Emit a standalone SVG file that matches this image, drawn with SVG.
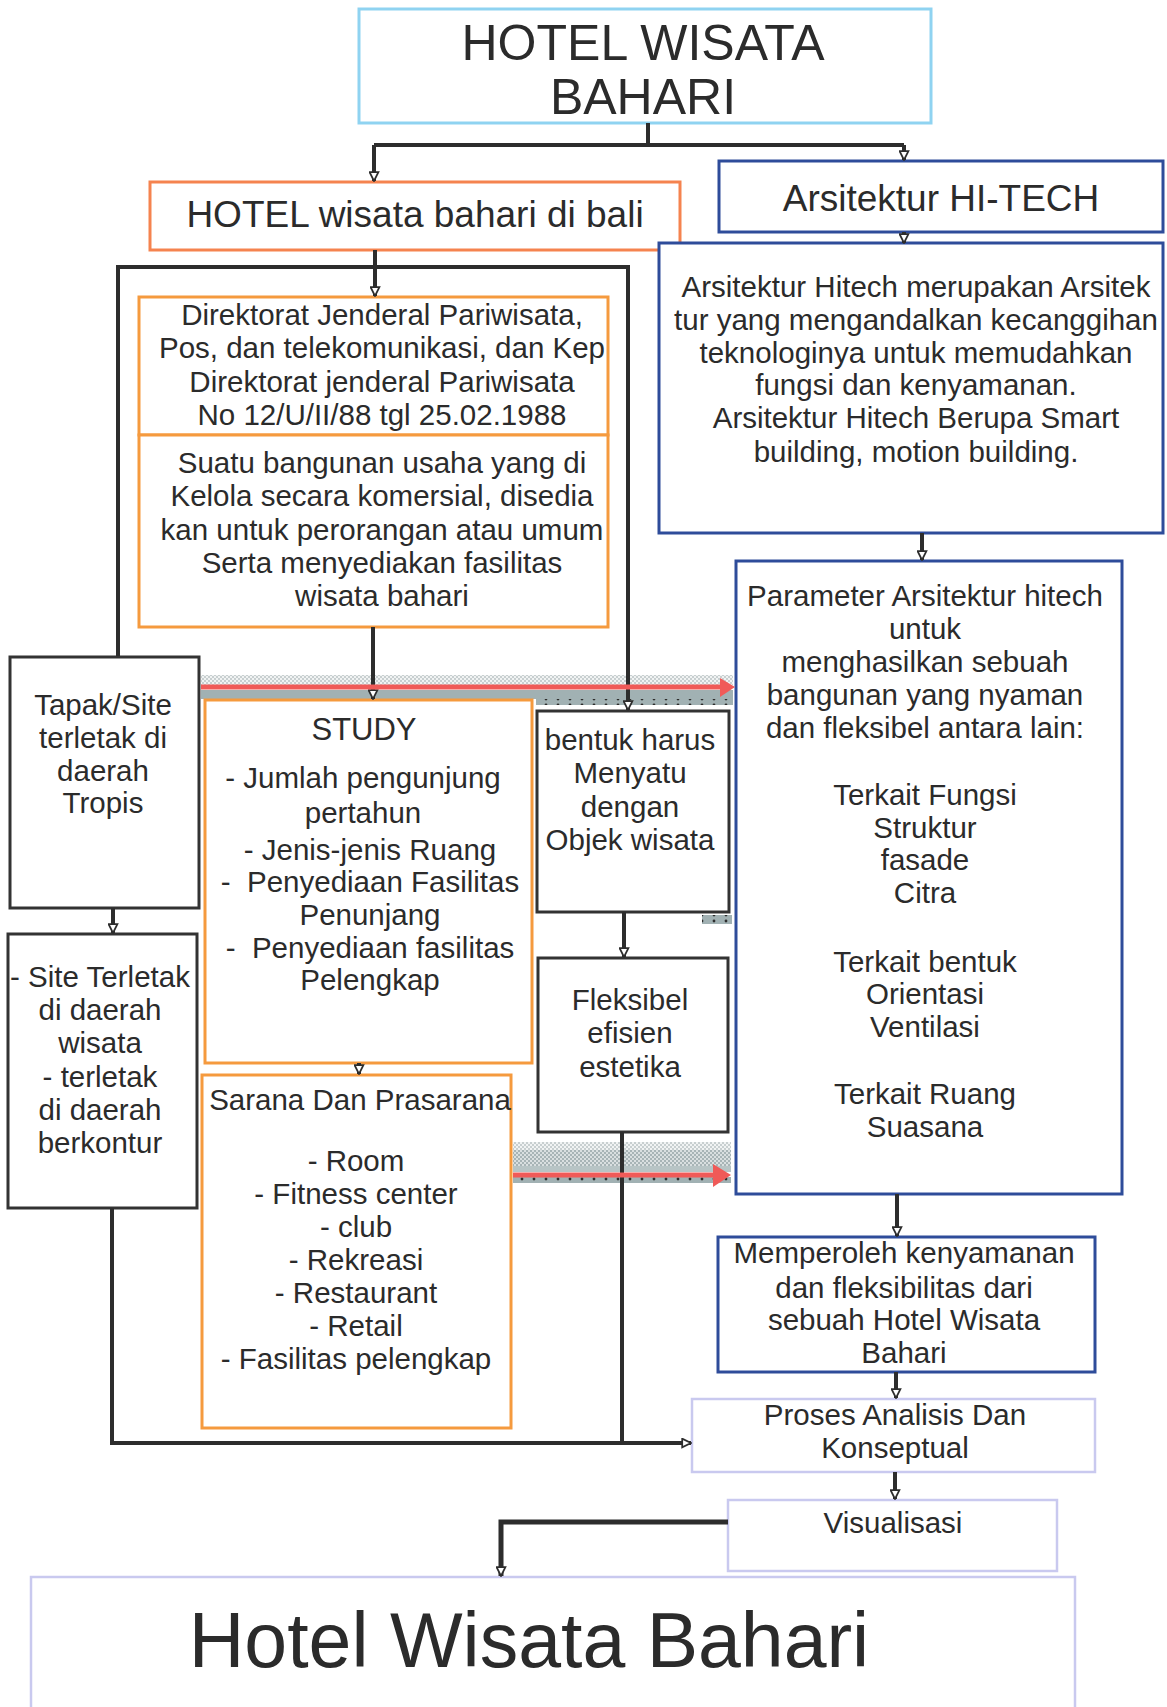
<svg xmlns="http://www.w3.org/2000/svg" width="1167" height="1707" viewBox="0 0 1167 1707">
<defs>
<style>
.t{font-family:"Liberation Sans",Arial,sans-serif;fill:#2b2b2b;text-anchor:middle;font-size:29.5px}
.box{fill:#fff;stroke-width:3}
.or{stroke:#f59a3e}
.rd{stroke:#f5834f}
.bl{stroke:#2e4c9a}
.lb{stroke:#8fd3f1}
.lv{stroke:#c9c9ef;stroke-width:2.5}
.bk{stroke:#333}
.ln{fill:none;stroke:#2d2d2d;stroke-width:4}
.red{fill:none;stroke:#f05a58;stroke-width:5}
</style>
<marker id="ah" viewBox="0 0 10 10" refX="9" refY="5" markerWidth="11" markerHeight="11" markerUnits="userSpaceOnUse" orient="auto">
<path d="M1,1 L9,5 L1,9 z" fill="#fff" stroke="#2d2d2d" stroke-width="1.6"/>
</marker>
<pattern id="lightdots" width="4" height="4" patternUnits="userSpaceOnUse">
<rect width="4" height="4" fill="#f1f3f3"/>
<rect x="0" y="0" width="2" height="2" fill="#c8cfd0"/>
<rect x="2" y="2" width="2" height="2" fill="#c8cfd0"/>
</pattern>
<pattern id="darkdots" width="4" height="4" patternUnits="userSpaceOnUse">
<rect width="4" height="4" fill="#d9dfe0"/>
<rect x="0" y="0" width="2" height="2" fill="#a7b4b6"/>
<rect x="2" y="2" width="2" height="2" fill="#a7b4b6"/>
</pattern>
<pattern id="blackdots" width="12" height="6" patternUnits="userSpaceOnUse">
<rect width="12" height="6" fill="#a1b1b3"/>
<circle cx="6" cy="3" r="1.4" fill="#2d2d2d"/>
</pattern>
</defs>

<g id="bands">
<rect x="201" y="675" width="532" height="10" fill="url(#lightdots)"/>
<rect x="201" y="690" width="532" height="9" fill="#a1b1b3"/>
<rect x="536" y="699" width="197" height="6" fill="url(#blackdots)"/>
<rect x="702" y="915" width="30" height="9" fill="url(#blackdots)"/>
<rect x="513" y="1142" width="218" height="8" fill="url(#lightdots)"/>
<rect x="513" y="1150" width="218" height="16" fill="url(#darkdots)"/>
<rect x="513" y="1166" width="218" height="6" fill="#b7c4c5"/>
<rect x="513" y="1177" width="218" height="6" fill="url(#blackdots)"/>
</g>

<g id="n-top"><rect class="box lb" x="359" y="9" width="572" height="114"/>
<text class="t" x="643" y="60" style="font-size:50px">HOTEL WISATA</text>
<text class="t" x="643" y="114" style="font-size:50px">BAHARI</text></g>

<g id="n-hotel"><rect class="box rd" x="150" y="182" width="530" height="68"/>
<text class="t" x="415" y="227" style="font-size:37px">HOTEL wisata bahari di bali</text></g>

<g id="n-hitech"><rect class="box bl" x="719" y="161" width="444" height="71"/>
<text class="t" x="941" y="211" style="font-size:37px">Arsitektur HI-TECH</text></g>

<g id="n-desc"><rect class="box bl" x="659" y="243" width="504" height="290"/>
<text class="t" x="916" y="297">Arsitektur Hitech merupakan Arsitek</text>
<text class="t" x="916" y="330">tur yang mengandalkan kecanggihan</text>
<text class="t" x="916" y="363">teknologinya untuk memudahkan</text>
<text class="t" x="916" y="395">fungsi dan kenyamanan.</text>
<text class="t" x="916" y="428">Arsitektur Hitech Berupa Smart</text>
<text class="t" x="916" y="462">building, motion building.</text></g>

<g id="n-direktorat"><rect class="box or" x="139" y="297" width="469" height="138"/>
<text class="t" x="382" y="325">Direktorat Jenderal Pariwisata,</text>
<text class="t" x="382" y="358">Pos, dan telekomunikasi, dan Kep</text>
<text class="t" x="382" y="392">Direktorat jenderal Pariwisata</text>
<text class="t" x="382" y="425">No 12/U/II/88 tgl 25.02.1988</text></g>

<g id="n-suatu"><rect class="box or" x="139" y="435" width="469" height="192"/>
<text class="t" x="382" y="473">Suatu bangunan usaha yang di</text>
<text class="t" x="382" y="506">Kelola secara komersial, disedia</text>
<text class="t" x="382" y="540">kan untuk perorangan atau umum</text>
<text class="t" x="382" y="573">Serta menyediakan fasilitas</text>
<text class="t" x="382" y="606">wisata bahari</text></g>

<g id="n-param"><rect class="box bl" x="736" y="561" width="386" height="633"/>
<text class="t" x="925" y="606">Parameter Arsitektur hitech</text>
<text class="t" x="925" y="639">untuk</text>
<text class="t" x="925" y="672">menghasilkan sebuah</text>
<text class="t" x="925" y="705">bangunan yang nyaman</text>
<text class="t" x="925" y="738">dan fleksibel antara lain:</text>
<text class="t" x="925" y="805">Terkait Fungsi</text>
<text class="t" x="925" y="838">Struktur</text>
<text class="t" x="925" y="870">fasade</text>
<text class="t" x="925" y="903">Citra</text>
<text class="t" x="925" y="972">Terkait bentuk</text>
<text class="t" x="925" y="1004">Orientasi</text>
<text class="t" x="925" y="1037">Ventilasi</text>
<text class="t" x="925" y="1104">Terkait Ruang</text>
<text class="t" x="925" y="1137">Suasana</text></g>

<g id="n-tapak"><rect class="box bk" x="10" y="657" width="189" height="251"/>
<text class="t" x="103" y="715">Tapak/Site</text>
<text class="t" x="103" y="748">terletak di</text>
<text class="t" x="103" y="781">daerah</text>
<text class="t" x="103" y="813">Tropis</text></g>

<g id="n-site"><rect class="box bk" x="8" y="934" width="189" height="274"/>
<text class="t" x="100" y="987">- Site Terletak</text>
<text class="t" x="100" y="1020">di daerah</text>
<text class="t" x="100" y="1053">wisata</text>
<text class="t" x="100" y="1087">- terletak</text>
<text class="t" x="100" y="1120">di daerah</text>
<text class="t" x="100" y="1153">berkontur</text></g>

<g id="n-study"><rect class="box or" x="205" y="700" width="327" height="363"/>
<text class="t" x="364" y="740" style="font-size:31px">STUDY</text>
<text class="t" x="363" y="788">- Jumlah pengunjung</text>
<text class="t" x="363" y="823">pertahun</text>
<text class="t" x="370" y="860">- Jenis-jenis Ruang</text>
<text class="t" x="370" y="892">-&#160; Penyediaan Fasilitas</text>
<text class="t" x="370" y="925">Penunjang</text>
<text class="t" x="370" y="958">-&#160; Penyediaan fasilitas</text>
<text class="t" x="370" y="990">Pelengkap</text></g>

<g id="n-sarana"><rect class="box or" x="202" y="1075" width="309" height="353"/>
<text class="t" x="360" y="1110">Sarana Dan Prasarana</text>
<text class="t" x="356" y="1171">- Room</text>
<text class="t" x="356" y="1204">- Fitness center</text>
<text class="t" x="356" y="1237">- club</text>
<text class="t" x="356" y="1270">- Rekreasi</text>
<text class="t" x="356" y="1303">- Restaurant</text>
<text class="t" x="356" y="1336">- Retail</text>
<text class="t" x="356" y="1369">- Fasilitas pelengkap</text></g>

<g id="n-bentuk"><rect class="box bk" x="537" y="711" width="192" height="201"/>
<text class="t" x="630" y="750">bentuk harus</text>
<text class="t" x="630" y="783">Menyatu</text>
<text class="t" x="630" y="817">dengan</text>
<text class="t" x="630" y="850">Objek wisata</text></g>

<g id="n-fleksibel"><rect class="box bk" x="538" y="958" width="190" height="174"/>
<text class="t" x="630" y="1010">Fleksibel</text>
<text class="t" x="630" y="1043">efisien</text>
<text class="t" x="630" y="1077">estetika</text></g>

<g id="n-memperoleh"><rect class="box bl" x="718" y="1237" width="377" height="135"/>
<text class="t" x="904" y="1263">Memperoleh kenyamanan</text>
<text class="t" x="904" y="1298">dan fleksibilitas dari</text>
<text class="t" x="904" y="1330">sebuah Hotel Wisata</text>
<text class="t" x="904" y="1363">Bahari</text></g>

<g id="n-proses"><rect class="box lv" x="692" y="1399" width="403" height="73"/>
<text class="t" x="895" y="1425">Proses Analisis Dan</text>
<text class="t" x="895" y="1458">Konseptual</text></g>

<g id="n-visual"><rect class="box lv" x="728" y="1500" width="329" height="71"/>
<text class="t" x="893" y="1533">Visualisasi</text></g>

<g id="n-final"><rect class="box lv" x="31" y="1577" width="1044" height="160"/>
<text class="t" x="529" y="1667" style="font-size:77px">Hotel Wisata Bahari</text></g>

<g id="connectors">
<path class="ln" d="M648,123 V145"/>
<path class="ln" d="M374,145 H904"/>
<path class="ln" d="M374,145 V181" marker-end="url(#ah)"/>
<path class="ln" d="M904,145 V160" marker-end="url(#ah)"/>
<path class="ln" d="M904,232 V243" marker-end="url(#ah)"/>
<path class="ln" d="M375,250 V296" marker-end="url(#ah)"/>
<path class="ln" d="M118,656 V267 H628 V710" marker-end="url(#ah)"/>
<path class="ln" d="M373,627 V699" marker-end="url(#ah)"/>
<path class="ln" d="M113,908 V933" marker-end="url(#ah)"/>
<path class="ln" d="M112,1208 V1443 H691" marker-end="url(#ah)"/>
<path class="ln" d="M624,912 V957" marker-end="url(#ah)"/>
<path class="ln" d="M622,1132 V1443"/>
<path class="ln" d="M359,1063 V1074" marker-end="url(#ah)"/>
<path class="ln" d="M922,533 V560" marker-end="url(#ah)"/>
<path class="ln" d="M897,1194 V1236" marker-end="url(#ah)"/>
<path class="ln" d="M896,1372 V1398" marker-end="url(#ah)"/>
<path class="ln" d="M895,1472 V1499" marker-end="url(#ah)"/>
<path class="ln" d="M728,1522 H501 V1576" style="stroke-width:5" marker-end="url(#ah)"/>
<path class="red" d="M201,687 H722"/>
<polygon points="720,678 735,687 720,697" fill="#f05a58"/>
<path class="red" d="M513,1175 H716"/>
<polygon points="713,1164 731,1175 713,1187" fill="#f05a58"/>
</g>
</svg>
